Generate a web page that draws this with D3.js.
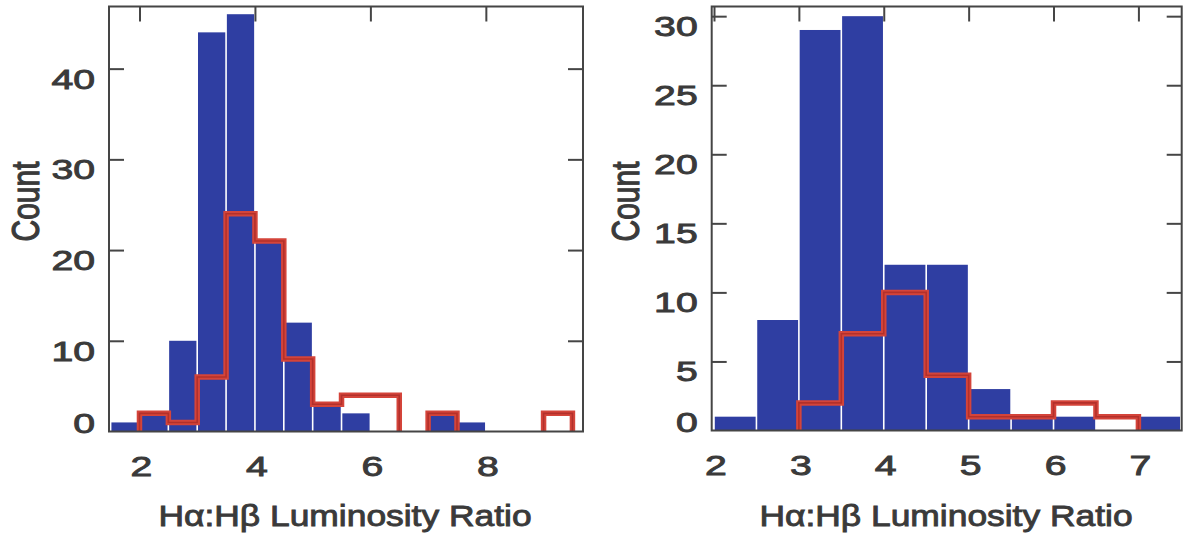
<!DOCTYPE html>
<html>
<head>
<meta charset="utf-8">
<script src="https://cdn.jsdelivr.net/npm/d3@7"></script>
<style>
  html, body { margin: 0; padding: 0; background: #fff; }
  svg { display: block; }
  text { font-family: "Liberation Sans", Arial, Helvetica, sans-serif; font-weight: normal; fill: #3a3a3a; stroke: #3a3a3a; stroke-width: 0.9px; }
</style>
</head>
<body>
<svg id="chart" width="1184" height="535"></svg>
<script>
// ---------------- data ----------------
const binWidth = 0.5;

// left panel: full sample (blue) and subsample (red)
const leftAllStart = 1.5;
const leftAllCounts = [1, 2, 10, 44, 46, 21, 12, 3, 2, 0, 0, 2, 1];
const leftSubStart = 2.0;
const leftSubCounts = [2, 1, 6, 24, 21, 8, 3, 4, 4, 0, 2, 0, 0, 0, 2];
const leftXTicks = [2, 4, 6, 8];
const leftYTicks = [0, 10, 20, 30, 40];

// right panel
const rightAllStart = 2.0;
const rightAllCounts = [1, 8, 29, 30, 12, 12, 3, 1, 1, 0, 1];
const rightSubStart = 3.0;
const rightSubCounts = [2, 7, 10, 4, 1, 1, 2, 1];
const rightXTicks = [2, 3, 4, 5, 6, 7];
const rightYTicks = [0, 5, 10, 15, 20, 25, 30];

const xTitle = "Hα:Hβ Luminosity Ratio";
const yTitle = "Count";

// ---------------- drawing ----------------
const svg = d3.select("#chart");
const BLUE = "#2f3ea2";
const RED_OUT = "#d4443a";
const RED_IN = "#b3302b";
const FRAME = "#454545";

function panel(cfg) {
  const x = d3.scaleLinear().domain(cfg.xDomain).range([cfg.left, cfg.right]);
  const y = d3.scaleLinear().domain(cfg.yDomain).range([cfg.bottom, cfg.top]);
  const g = svg.append("g");

  // blue bars
  const bins = cfg.allCounts.map((c, i) => ({
    x0: cfg.allStart + i * binWidth,
    x1: cfg.allStart + (i + 1) * binWidth,
    c
  })).filter(d => d.c > 0);
  g.selectAll("rect.bar").data(bins).enter().append("rect")
    .attr("class", "bar")
    .attr("x", d => x(d.x0) + 0.8)
    .attr("width", d => x(d.x1) - x(d.x0) - 1.6)
    .attr("y", d => y(d.c))
    .attr("height", d => cfg.bottom - y(d.c))
    .attr("fill", BLUE);

  // red step outline, split in non-zero runs
  const runs = [];
  let cur = null;
  cfg.subCounts.forEach((c, i) => {
    if (c > 0) {
      if (!cur) { cur = []; runs.push(cur); }
      cur.push({ i, c });
    } else cur = null;
  });
  const line = d3.line().x(d => x(d[0])).y(d => y(d[1]));
  runs.forEach(run => {
    const pts = [];
    const s = cfg.subStart;
    pts.push([s + run[0].i * binWidth, 0]);
    run.forEach(r => {
      pts.push([s + r.i * binWidth, r.c]);
      pts.push([s + (r.i + 1) * binWidth, r.c]);
    });
    pts.push([s + (run[run.length - 1].i + 1) * binWidth, 0]);
    g.append("path").attr("d", line(pts))
      .attr("fill", "none").attr("stroke", RED_OUT)
      .attr("stroke-width", 5.5).attr("stroke-linejoin", "miter");
    g.append("path").attr("d", line(pts))
      .attr("fill", "none").attr("stroke", RED_IN)
      .attr("stroke-width", 1.6).attr("stroke-linejoin", "miter");
  });

  // frame
  g.append("rect")
    .attr("x", cfg.left).attr("y", cfg.top)
    .attr("width", cfg.right - cfg.left).attr("height", cfg.bottom - cfg.top)
    .attr("fill", "none").attr("stroke", FRAME).attr("stroke-width", 2);

  const styleTicks = sel => {
    sel.select(".domain").remove();
    sel.selectAll(".tick line").attr("stroke", FRAME).attr("stroke-width", 2);
  };

  // left y axis with labels
  const yAxisL = g.append("g").attr("transform", `translate(${cfg.left},0)`)
    .call(d3.axisLeft(y).tickValues(cfg.yTicks).tickSize(-15).tickPadding(15).tickFormat(d3.format("d")));
  styleTicks(yAxisL);
  yAxisL.selectAll(".tick line").filter(d => d === 0).remove();
  yAxisL.selectAll(".tick text")
    .attr("x", 0).attr("dy", null)
    .attr("y", d => d === 0 ? 1 : 19.5)
    .attr("text-anchor", "end")
    .attr("font-size", 28)
    .attr("transform", "translate(-14,0) scale(1.4,1)");

  // right y axis ticks
  const yAxisR = g.append("g").attr("transform", `translate(${cfg.right},0)`)
    .call(d3.axisRight(y).tickValues(cfg.yTicks.filter(v => v > 0)).tickSize(-15).tickFormat(""));
  styleTicks(yAxisR);

  // top x ticks
  const xAxisT = g.append("g").attr("transform", `translate(0,${cfg.top})`)
    .call(d3.axisTop(x).tickValues(cfg.xTicks).tickSize(-15).tickFormat(""));
  styleTicks(xAxisT);

  // bottom x labels
  const xAxisB = g.append("g").attr("transform", `translate(0,${cfg.bottom})`)
    .call(d3.axisBottom(x).tickValues(cfg.xTicks).tickSize(0).tickFormat(d3.format("d")));
  xAxisB.select(".domain").remove();
  xAxisB.selectAll(".tick line").remove();
  xAxisB.selectAll(".tick text")
    .attr("x", 0).attr("dy", null).attr("y", 0)
    .attr("font-size", 28)
    .attr("text-anchor", "middle")
    .attr("transform", "translate(1.5,44.5) scale(1.4,1)");

  // axis titles
  g.append("text").text(xTitle)
    .attr("font-size", 30).attr("text-anchor", "middle")
    .attr("transform", `translate(${cfg.xTitleX},526) scale(1.18,1)`);
  g.append("text").text(yTitle)
    .attr("font-size", 30).attr("text-anchor", "middle")
    .attr("transform", `translate(${cfg.yTitleX},201.5) scale(1.3,1) rotate(-90)`);
}

panel({
  left: 109, right: 583, top: 6.5, bottom: 431.5,
  xDomain: [1.472, 9.683], yDomain: [0, 46.85],
  allStart: leftAllStart, allCounts: leftAllCounts,
  subStart: leftSubStart, subCounts: leftSubCounts,
  xTicks: leftXTicks, yTicks: leftYTicks,
  xTitleX: 345, yTitleX: 38.5
});

panel({
  left: 711.7, right: 1181.7, top: 6.5, bottom: 430.5,
  xDomain: [1.973, 7.51], yDomain: [0, 30.7],
  allStart: rightAllStart, allCounts: rightAllCounts,
  subStart: rightSubStart, subCounts: rightSubCounts,
  xTicks: rightXTicks, yTicks: rightYTicks,
  xTitleX: 946, yTitleX: 639
});
</script>
</body>
</html>
